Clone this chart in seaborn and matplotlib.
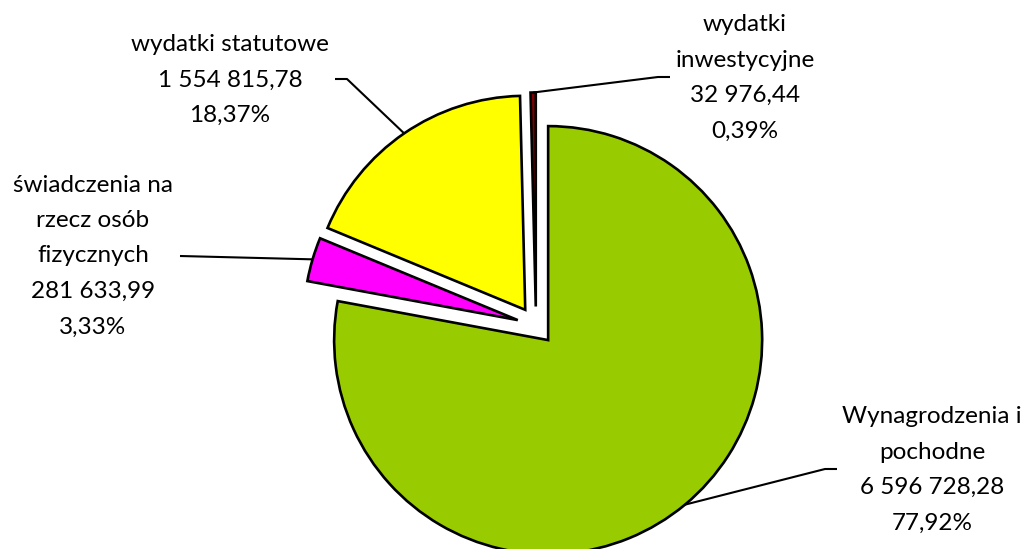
import numpy as np
import seaborn as sns
import matplotlib.pyplot as plt

# data
names = ["Wynagrodzenia i\npochodne", "świadczenia na\nrzecz osób\nfizycznych",
         "wydatki statutowe", "wydatki\ninwestycyjne"]
values = [6596728.28, 281633.99, 1554815.78, 32976.44]
colors = ["#99CC00", "#FF00FF", "#FFFF00", "#800000"]

# label layout (pixels, y from top): text centre, leader start, optional knee
label_pos = [(932, 470), (93, 256), (230, 80), (745, 78)]
leader_start = [(837, 469), (180, 256), (335, 79), (670, 77)]
leader_knee = [(825, 469), None, (347, 79), (658, 77)]

W, H = 1023, 549

sns.set_theme(style="white")
plt.rcParams['font.family'] = ['Lato', 'DejaVu Sans']

fig = plt.figure(figsize=(W / 100, H / 100), dpi=100)
ax = fig.add_axes([0, 0, 1, 1])

# explode is in data units (pixels here)
wedges, _ = ax.pie(values, colors=colors, startangle=90, counterclock=False,
                   explode=[19] * 4, radius=214, center=(536, H - 325.5),
                   wedgeprops=dict(edgecolor="black", linewidth=1.9))
ax.set_xlim(0, W)
ax.set_ylim(0, H)
ax.set_aspect("equal")
ax.axis("off")

def fmt(v):
    return f"{v:,.2f}".replace(",", " ").replace(".", ",")

total = sum(values)
for i, w in enumerate(wedges):
    pct = f"{values[i] / total * 100:.2f}".replace(".", ",") + "%"
    txt = names[i] + "\n" + fmt(values[i]) + "\n" + pct
    lx, ly = label_pos[i]
    ax.text(lx, H - ly, txt, ha="center", va="center", fontsize=17.5,
            color="black", linespacing=1.85)
    # leader to the middle of the wedge arc
    mid = np.deg2rad((w.theta1 + w.theta2) / 2)
    ax_ = w.center[0] + w.r * np.cos(mid)
    ay_ = w.center[1] + w.r * np.sin(mid)
    pts = [leader_start[i]]
    if leader_knee[i] is not None:
        pts.append(leader_knee[i])
    xs = [p[0] for p in pts] + [ax_]
    ys = [H - p[1] for p in pts] + [ay_]
    ax.plot(xs, ys, color="black", lw=1.5, solid_capstyle="butt")

plt.savefig("out.png", dpi=100)
